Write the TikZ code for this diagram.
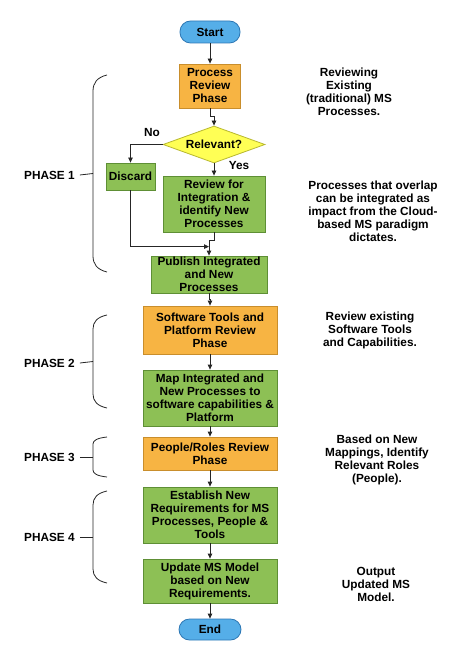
\documentclass[tikz,border=0pt]{standalone}
\usepackage{fontspec}
\setmainfont{Liberation Sans}
\usetikzlibrary{arrows.meta,shapes.geometric,calc}
\definecolor{orf}{HTML}{F7B443}
\definecolor{ord}{HTML}{C98E2C}
\definecolor{grf}{HTML}{8DC055}
\definecolor{grd}{HTML}{5E8F35}
\definecolor{yef}{HTML}{FFFF55}
\definecolor{yed}{HTML}{B8B830}
\definecolor{blf}{HTML}{55AEE8}
\definecolor{bld}{HTML}{2E78B5}
\begin{document}
\begin{tikzpicture}[x=1pt,y=-1pt,
  every node/.style={font=\bfseries\fontsize{11.8}{13}\selectfont, align=center, inner sep=0pt},
  obox/.style={draw=ord, fill=orf, line width=0.8pt},
  gbox/.style={draw=grd, fill=grf, line width=0.8pt},
  term/.style={draw=bld, fill=blf, line width=0.8pt, rounded corners=10.5pt},
  conn/.style={line width=0.8pt, draw=black!85, -{Triangle[length=5pt,width=4.5pt]}},
  brace/.style={line width=0.8pt, draw=black!85},
  note/.style={}]
\useasboundingbox (0,0) rectangle (474,660);
% main flow nodes
\node[term, minimum width=60pt, minimum height=22pt] (start) at (210,32) {Start};
\node[obox, minimum width=61pt, minimum height=44pt] (proc) at (210,86) {Process\\Review\\Phase};
\node[diamond, draw=yed, fill=yef, line width=0.8pt, minimum width=102pt, minimum height=37pt, label={center:Relevant?}] (dia) at (214,144.5) {};
\node[gbox, minimum width=49pt, minimum height=27pt] (disc) at (130.5,176.5) {Discard};
\node[gbox, minimum width=102pt, minimum height=56pt] (rev) at (214,204) {Review for\\Integration \&\\identify New\\Processes};
\node[gbox, minimum width=116pt, minimum height=37pt] (pub) at (209,274.5) {Publish Integrated\\and New\\Processes};
\node[obox, minimum width=134pt, minimum height=48pt] (soft) at (210,330) {Software Tools and\\Platform Review\\Phase};
\node[gbox, minimum width=134pt, minimum height=56pt] (map) at (210,398) {Map Integrated and\\New Processes to\\software capabilities \&\\Platform};
\node[obox, minimum width=134pt, minimum height=33pt] (peop) at (210,453.5) {People/Roles Review\\Phase};
\node[gbox, minimum width=134pt, minimum height=56pt] (est) at (210,515) {Establish New\\Requirements for MS\\Processes, People \&\\Tools};
\node[gbox, minimum width=134pt, minimum height=44pt] (upd) at (210,581) {Update MS Model\\based on New\\Requirements.};
\node[term, minimum width=62pt, minimum height=21pt] (end) at (210,629.5) {End};
% labels on branches
\node (no) at (152,133) {No};
\node (yes) at (239,165) {Yes};
% connectors
\draw[conn] (start) -- (proc);
\draw[conn] (proc.south) -- ++(0,8) -| (dia.north);
\draw[conn] (dia.west) -| (disc.north);
\draw[conn] (dia.south) -- (rev.north);
\coordinate (jn) at ($(pub.north)+(0,-9)$);
\draw[conn] (disc.south) |- (jn);
\draw[conn] (rev.south) -- ++(0,8) -| (pub.north);
\draw[conn] (pub.south) -- ++(0,6) -| (soft.north);
\draw[conn] (soft) -- (map);
\draw[conn] (map) -- (peop);
\draw[conn] (peop) -- (est);
\draw[conn] (est) -- (upd);
\draw[conn] (upd) -- (end);
% right notes
\node[note] (n1) at (349,92) {Reviewing\\Existing\\(traditional) MS\\Processes.};
\node[note] (n2) at (373,211) {Processes that overlap\\can be integrated as\\impact from the Cloud-\\based MS paradigm\\dictates.};
\node[note] (n3) at (370,330) {Review existing\\Software Tools\\and Capabilities.};
\node[note] (n4) at (377,459.5) {Based on New\\Mappings, Identify\\Relevant Roles\\(People).};
\node[note] (n5) at (376,584) {Output\\Updated MS\\Model.};
% phase labels and braces
\node[anchor=west] (p1) at (24,175) {PHASE 1};
\node[anchor=west] (p2) at (24,363) {PHASE 2};
\node[anchor=west] (p3) at (24,457) {PHASE 3};
\node[anchor=west] (p4) at (24,537) {PHASE 4};
\foreach \lb/\t/\b/\r in {p1/75/272/16, p2/315/408/14, p3/437/477/7, p4/491/583/14}{
  \draw[brace] (107,\t) .. controls (97,\t+0.15*\r) and (93,\t+0.5*\r) .. (93,\t+\r)
     -- (93,\b-\r) .. controls (93,\b-0.5*\r) and (97,\b-0.15*\r) .. (107,\b);
  \draw[brace] ($(\lb.east)+(5,0)$) -- (93,\t/2+\b/2);
}
\end{tikzpicture}
\end{document}
